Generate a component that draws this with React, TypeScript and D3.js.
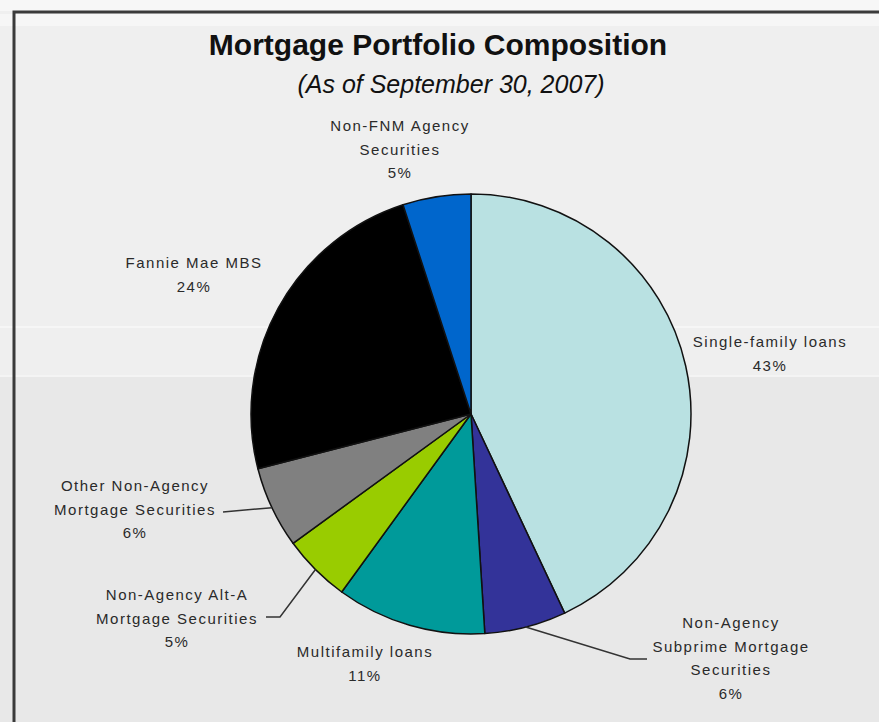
import React from "react";
import * as d3 from "d3";

const categories = [
  "Single-family loans",
  "Non-Agency Subprime Mortgage Securities",
  "Multifamily loans",
  "Non-Agency Alt-A Mortgage Securities",
  "Other Non-Agency Mortgage Securities",
  "Fannie Mae MBS",
  "Non-FNM Agency Securities",
];
const values = [43, 6, 11, 5, 6, 24, 5];
const labelLines = [
  ["Single-family loans"],
  ["Non-Agency", "Subprime Mortgage", "Securities"],
  ["Multifamily loans"],
  ["Non-Agency Alt-A", "Mortgage Securities"],
  ["Other Non-Agency", "Mortgage Securities"],
  ["Fannie Mae MBS"],
  ["Non-FNM Agency", "Securities"],
];
const colors = ["#b9e1e2", "#333399", "#009a9a", "#99cc00", "#808080", "#000000", "#0066cc"];

// layout: label anchor (center x, first baseline y) and leader elbow points
const labelLayout = [
  { x: 770, y: 347, leader: null },
  { x: 731, y: 628, leader: [[630, 659], [647, 659]] },
  { x: 365, y: 657, leader: null },
  { x: 177, y: 600, leader: [[280, 617], [266, 617]] },
  { x: 135, y: 491, leader: [[223, 512]] },
  { x: 194, y: 268, leader: null },
  { x: 400, y: 131, leader: null },
];

const W = 879;
const H = 722;
const cx = 471;
const cy = 414;
const R = 220;

export default function App() {
  const pie = d3.pie<number>().sort(null).value((d) => d);
  const arcs = pie(values);
  const arc = d3.arc<d3.PieArcDatum<number>>().innerRadius(0).outerRadius(R);
  const total = d3.sum(values);
  const fmt = (v: number) => `${Math.round((v / total) * 100)}%`;
  const lh = 23.5;

  return (
    <svg
      width={W}
      height={H}
      style={{ position: "absolute", left: 0, top: 0 }}
      fontFamily="'Liberation Sans', Arial, Helvetica, sans-serif"
    >
      {/* page background bands */}
      <rect x={0} y={0} width={W} height={H} fill="#e8e8e8" />
      <rect x={0} y={0} width={W} height={376} fill="#efefef" />
      <rect x={0} y={0} width={W} height={11} fill="#f7f7f7" />
      <rect x={0} y={14} width={W} height={12} fill="#f6f6f6" />
      <rect x={0} y={326} width={W} height={2} fill="#f6f6f6" />
      <rect x={0} y={375} width={W} height={2} fill="#f4f4f4" />
      {/* frame */}
      <path d={`M14,${H} V12 H${W}`} fill="none" stroke="#3a3a3a" strokeWidth={3} />

      {/* title */}
      <text x={438} y={55} textAnchor="middle" fontSize={30} fontWeight="bold" fill="#111">
        Mortgage Portfolio Composition
      </text>
      <text x={451} y={93} textAnchor="middle" fontSize={25} fontStyle="italic" fill="#111">
        (As of September 30, 2007)
      </text>

      {/* pie */}
      <g transform={`translate(${cx},${cy})`}>
        {arcs.map((a, i) => (
          <path key={categories[i]} d={arc(a) || ""} fill={colors[i]} stroke="#111" strokeWidth={1.5} strokeLinejoin="round" />
        ))}
      </g>

      {/* leader lines */}
      {arcs.map((a, i) => {
        const lay = labelLayout[i];
        if (!lay.leader) return null;
        const mid = (a.startAngle + a.endAngle) / 2;
        const sx = cx + R * Math.sin(mid);
        const sy = cy - R * Math.cos(mid);
        const pts: [number, number][] = [[sx, sy], ...(lay.leader as [number, number][])];
        return (
          <path
            key={"l" + i}
            d={d3.line()(pts) || ""}
            fill="none"
            stroke="#333"
            strokeWidth={1.5}
          />
        );
      })}

      {/* labels */}
      {arcs.map((a, i) => {
        const lay = labelLayout[i];
        const lines = [...labelLines[i], fmt(values[i])];
        return (
          <text key={"t" + i} textAnchor="middle" fontSize={15} fill="#2a2a2a" letterSpacing={1.5}>
            {lines.map((ln, j) => (
              <tspan key={j} x={lay.x} y={lay.y + j * lh}>
                {ln}
              </tspan>
            ))}
          </text>
        );
      })}
    </svg>
  );
}
